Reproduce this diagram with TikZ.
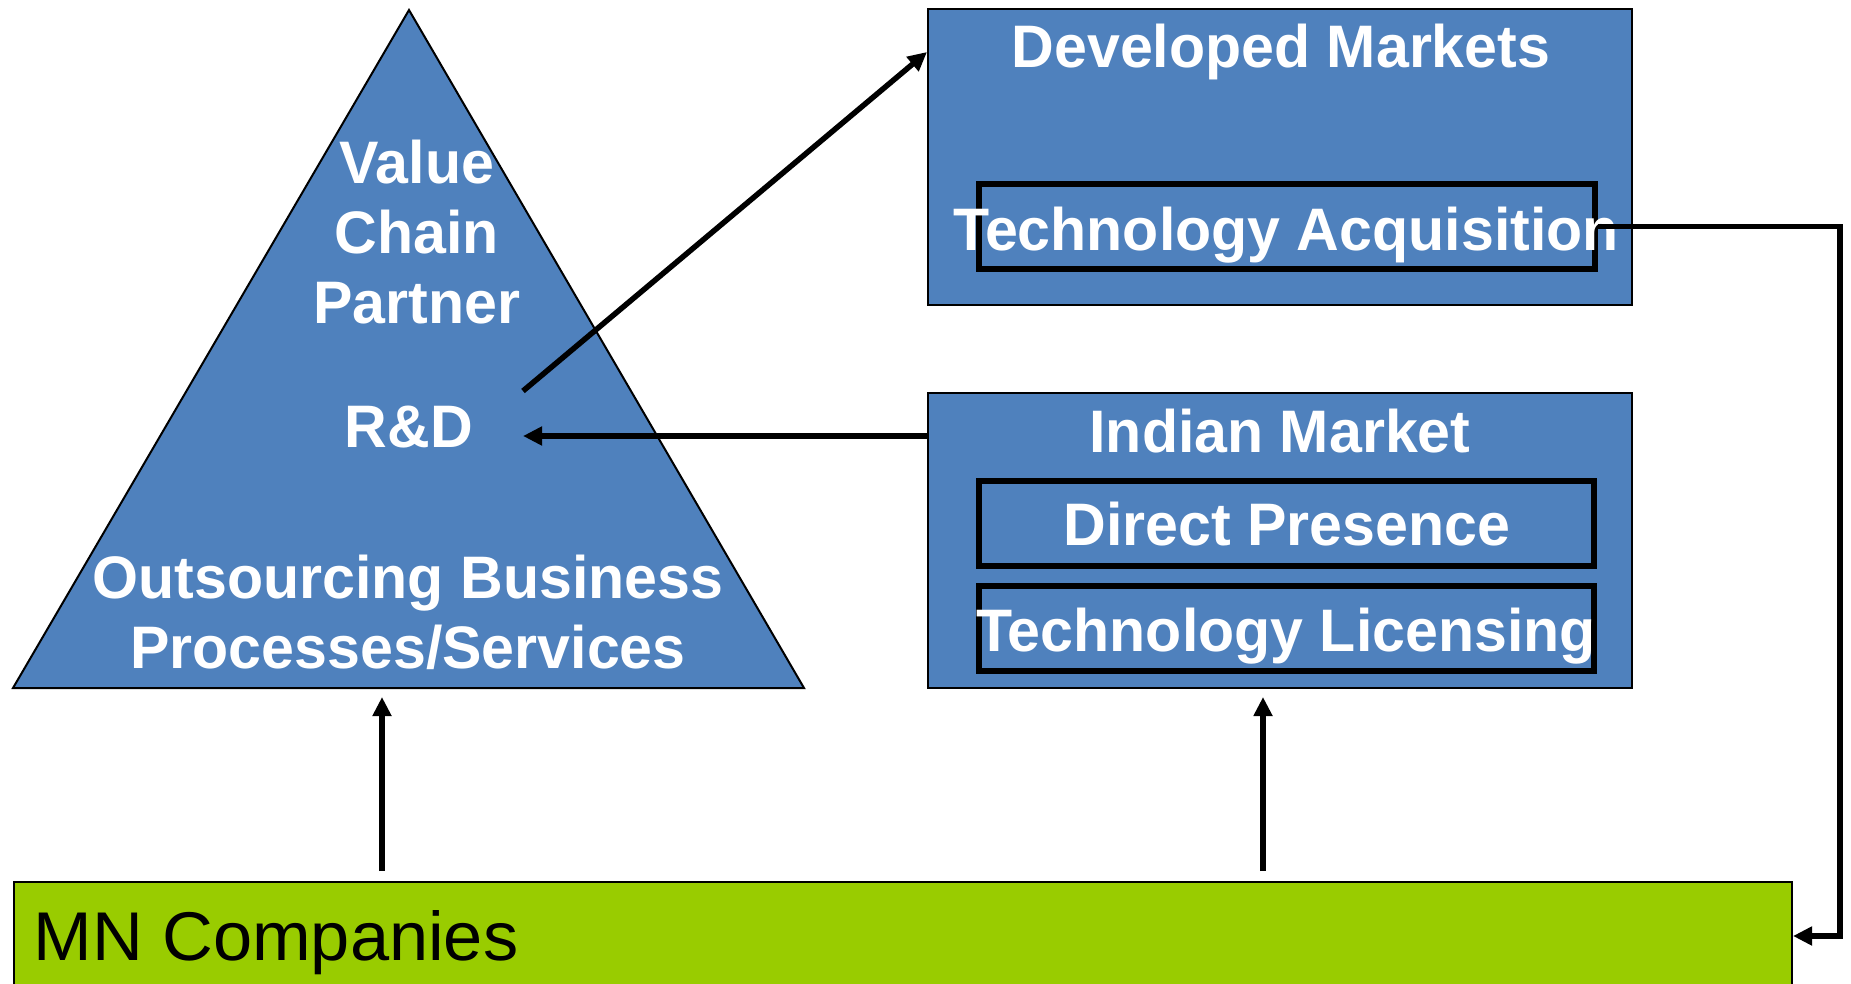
\documentclass[tikz,border=0pt]{standalone}
\usepackage{fontspec}
\setmainfont{Liberation Sans}
\newfontfamily\boxfont[FakeStretch=0.985]{Liberation Sans}
\newfontfamily\barfont[FakeStretch=1.02]{Liberation Sans}
\definecolor{boxblue}{RGB}{79,129,189}
\definecolor{mngreen}{RGB}{153,204,0}
\usepackage{tikz}
\usetikzlibrary{arrows.meta}

\tikzset{
  market/.style={draw=black, line width=1pt, fill=boxblue, minimum width=352pt, minimum height=148pt, inner sep=0pt},
  entry/.style={draw=black, line width=3pt, minimum width=307.75pt, minimum height=42.5pt, inner sep=0pt},
  whitetext/.style={text=white, font=\boxfont\bfseries\fontsize{30}{35}\selectfont, inner sep=0pt, align=center},
  conn/.style={line width=2.75pt, -{Triangle[length=9.5pt, width=9pt]}}
}

\begin{document}
\begin{tikzpicture}[x=0.5pt, y=-0.5pt]
  \useasboundingbox (0,0) rectangle (1851,984);
  %% Value chain triangle
  \draw[line width=1pt, fill=boxblue, line join=miter] (409,10) -- (804,688) -- (13,688) -- cycle;
  %% Market boxes
  \node[market] (dm) at (1280,157) {};
  \node[market, minimum height=147.5pt] (im) at (1280,540.5) {};
  \node[entry] (ta) at (1286.75,226.5) {};
  \node[entry] (dp) at (1286.5,523.5) {};
  \node[entry] (tl) at (1286.5,628) {};
  %% MN Companies bar
  \node[draw=black, line width=1pt, fill=mngreen, minimum width=889pt, minimum height=54pt, inner sep=0pt, anchor=north west] (mn) at (13,881) {};
  \node[anchor=base west, inner sep=0pt, font=\barfont\fontsize{34.5}{40}\selectfont] (mntext) at (33,960) {MN Companies};
  %% Texts
  \node[whitetext] (vcp) at (417,232.5) {Value\\Chain\\Partner};
  \node[whitetext, anchor=base] (rd) at (409,447) {R\&D};
  \node[whitetext] (obp) at (408,612) {Outsourcing Business\\Processes/Services};
  \node[whitetext, anchor=base] (dmtext) at (1281,68) {Developed Markets};
  \node[whitetext, anchor=base] (tatext) at (1286,250) {Technology Acquisition};
  \node[whitetext, anchor=base] (imtext) at (1280,452) {Indian Market};
  \node[whitetext, anchor=base] (dptext) at (1287,545) {Direct Presence};
  \node[whitetext, anchor=base] (tltext) at (1286,651) {Technology Licensing};
  %% Connectors
  \coordinate (rdout) at (523,391);
  \coordinate (rdin) at (523,436);
  \coordinate (dmin) at (927,52);
  \coordinate (outsrc) at (382,697);
  \coordinate (imbase) at (1263,697);
  \coordinate (turn) at (1840,226.5);
  \draw[conn] (rdout) -- (dmin);
  \draw[conn] (im.west |- rdin) -- (rdin);
  \draw[conn] ([yshift=5pt]mn.north -| outsrc) -- (outsrc);
  \draw[conn] ([yshift=5pt]mn.north -| imbase) -- (imbase);
  \draw[conn] (ta.east) -- (turn) |- (mn.east);
\end{tikzpicture}
\end{document}
